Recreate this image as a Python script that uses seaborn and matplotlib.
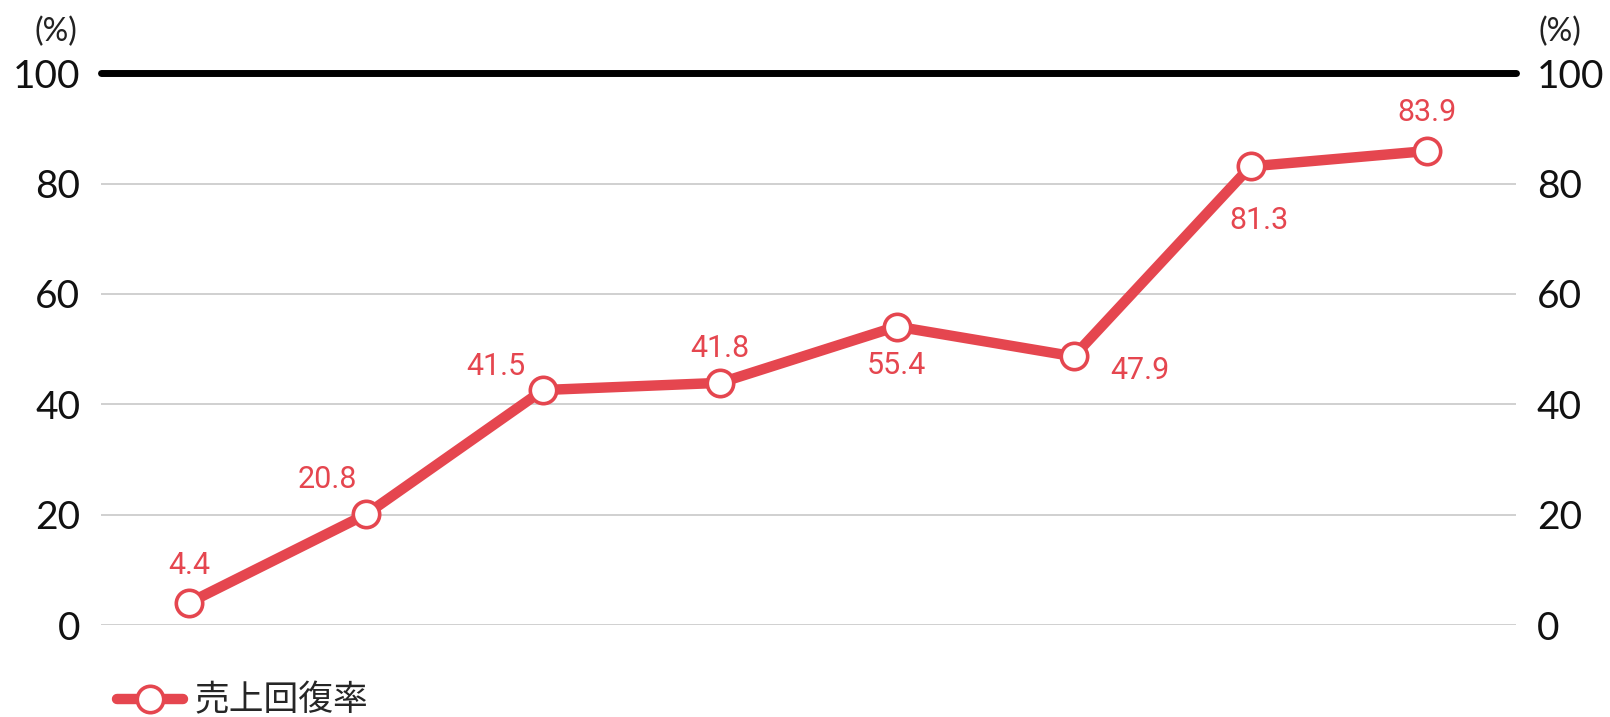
import matplotlib
matplotlib.use("Agg")
import numpy as np
import pandas as pd
import seaborn as sns
import matplotlib.pyplot as plt
from matplotlib.lines import Line2D

# values as drawn on the chart and the labels printed next to them
values = [4.1, 20.1, 42.6, 43.9, 54.1, 48.7, 83.1, 85.9]
labels = ["4.4", "20.8", "41.5", "41.8", "55.4", "47.9", "81.3", "83.9"]
yticks = [0, 20, 40, 60, 80, 100]
series_name = "売上回復率"

# label offsets (points) around each marker
offsets = [(0, 27), (-28, 25), (-34, 17), (0, 25), (0, -28), (48, -10), (6, -39), (0, 28)]

red = "#E5464F"
sns.set_theme(style="white")
plt.rcParams["font.family"] = ["Lato", "Noto Sans CJK JP", "DejaVu Sans"]

df = pd.DataFrame({"x": np.arange(len(values)), "rate": values})

fig = plt.figure(figsize=(16.1, 7.17), dpi=100)
ax = fig.add_axes([0.0627, 0.128, 0.8788, 0.770])

for v in yticks[:-1]:
	ax.axhline(v, color="#c8c8c8", lw=1.2, zorder=1)
ax.axhline(100, color="black", lw=5, zorder=1, clip_on=False)

sns.lineplot(data=df, x="x", y="rate", ax=ax, color=red, lw=7.5, marker="o",
             markersize=19, markerfacecolor="white", markeredgecolor=red,
             markeredgewidth=2.6, zorder=3, clip_on=False)

for i, (v, t) in enumerate(zip(values, labels)):
	ax.annotate(t, (i, v), xytext=offsets[i], textcoords="offset points",
	            ha="center", va="center", color=red, fontsize=22, family=["Roboto", "DejaVu Sans"])

ax.set_xlim(-0.5, len(values) - 0.5)
ax.set_ylim(0, 100)
ax.set_xticks([])
ax.set_yticks(yticks)
ax.set_xlabel("")
ax.set_ylabel("")
for s in ax.spines.values():
	s.set_visible(False)
ax.tick_params(axis="y", length=0, labelsize=28, pad=15, labelcolor="#111111",
               left=True, right=True, labelleft=True, labelright=True)

fig.text(0.035, 0.956, "(%)", fontsize=23, ha="center", va="center", color="#222222")
fig.text(0.969, 0.956, "(%)", fontsize=23, ha="center", va="center", color="#222222")

handle = Line2D([], [], color=red, lw=7.5, marker="o", markersize=19,
                markerfacecolor="white", markeredgecolor=red, markeredgewidth=2.6)
fig.legend([handle], [series_name], loc="center left", bbox_to_anchor=(0.053, 0.022),
           frameon=False, handlelength=1.9, handletextpad=0.35,
           prop={"family": ["Noto Sans CJK JP", "DejaVu Sans"], "size": 25})

fig.savefig("out.png", dpi=100)
